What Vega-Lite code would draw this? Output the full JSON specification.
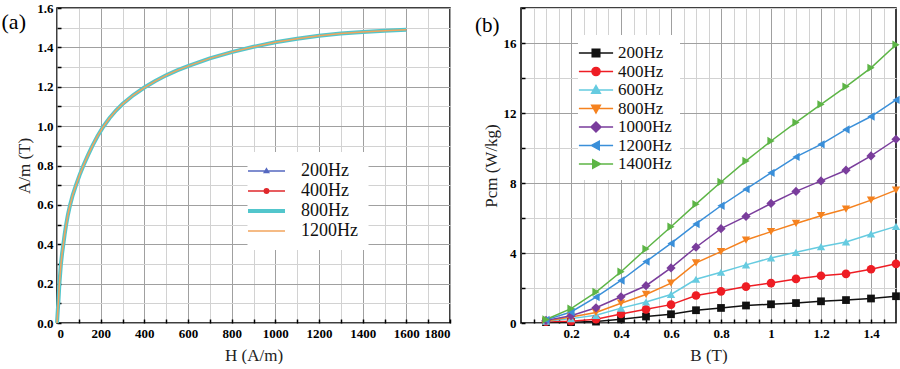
{
  "$schema": "https://vega.github.io/schema/vega-lite/v6.json",
  "padding": {"left": 0, "top": 1, "right": 0, "bottom": 0},
  "background": "#ffffff",
  "config": {
    "font": "Liberation Serif",
    "view": {"stroke": "#000000", "strokeWidth": 1.5},
    "style": {
      "guide-label": {"font": "Liberation Serif"},
      "guide-title": {"font": "Liberation Serif"}
    },
    "axis": {
      "labelFont": "Liberation Serif", "labelFontWeight": "bold", "labelFontSize": 13, "labelColor": "#000000",
      "titleFont": "Liberation Serif", "titleFontWeight": "normal", "titleFontSize": 17, "titleColor": "#222222",
      "domain": false, "ticks": false, "gridColor": "#a0a0a0", "gridWidth": 1, "labelOverlap": false
    }
  },
  "resolve": {"scale": {"color": "independent"}, "legend": {"color": "independent"}},
  "datasets": {
    "bh": [
      {"H": 0, "B": 0}, {"H": 2, "B": 0.035}, {"H": 4, "B": 0.07}, {"H": 6, "B": 0.1}, {"H": 8.5, "B": 0.15},
      {"H": 11, "B": 0.2}, {"H": 14.5, "B": 0.25}, {"H": 18, "B": 0.3}, {"H": 23, "B": 0.35}, {"H": 29, "B": 0.4},
      {"H": 35, "B": 0.45}, {"H": 42, "B": 0.5}, {"H": 50, "B": 0.55}, {"H": 60, "B": 0.6}, {"H": 72, "B": 0.65},
      {"H": 87, "B": 0.7}, {"H": 103, "B": 0.75}, {"H": 121, "B": 0.8}, {"H": 141, "B": 0.85}, {"H": 162, "B": 0.9},
      {"H": 186, "B": 0.95}, {"H": 212, "B": 0.997}, {"H": 240, "B": 1.04}, {"H": 270, "B": 1.079}, {"H": 300, "B": 1.112},
      {"H": 350, "B": 1.158}, {"H": 400, "B": 1.196}, {"H": 450, "B": 1.229}, {"H": 500, "B": 1.258}, {"H": 550, "B": 1.283},
      {"H": 600, "B": 1.305}, {"H": 700, "B": 1.344}, {"H": 800, "B": 1.376}, {"H": 900, "B": 1.403}, {"H": 1000, "B": 1.426},
      {"H": 1100, "B": 1.444}, {"H": 1200, "B": 1.459}, {"H": 1300, "B": 1.47}, {"H": 1400, "B": 1.478}, {"H": 1500, "B": 1.485},
      {"H": 1600, "B": 1.49}
    ],
    "loss": [
      {"B": 0.1, "200Hz": 0.05, "400Hz": 0.08, "600Hz": 0.1, "800Hz": 0.12, "1000Hz": 0.15, "1200Hz": 0.18, "1400Hz": 0.2},
      {"B": 0.2, "200Hz": 0.05, "400Hz": 0.1, "600Hz": 0.25, "800Hz": 0.34, "1000Hz": 0.42, "1200Hz": 0.63, "1400Hz": 0.82},
      {"B": 0.3, "200Hz": 0.08, "400Hz": 0.22, "600Hz": 0.44, "800Hz": 0.6, "1000Hz": 0.87, "1200Hz": 1.48, "1400Hz": 1.77},
      {"B": 0.4, "200Hz": 0.21, "400Hz": 0.52, "600Hz": 0.85, "800Hz": 1.13, "1000Hz": 1.5, "1200Hz": 2.43, "1400Hz": 2.93},
      {"B": 0.5, "200Hz": 0.37, "400Hz": 0.78, "600Hz": 1.2, "800Hz": 1.63, "1000Hz": 2.13, "1200Hz": 3.51, "1400Hz": 4.23},
      {"B": 0.6, "200Hz": 0.5, "400Hz": 1.05, "600Hz": 1.63, "800Hz": 2.28, "1000Hz": 3.15, "1200Hz": 4.55, "1400Hz": 5.5},
      {"B": 0.7, "200Hz": 0.73, "400Hz": 1.57, "600Hz": 2.5, "800Hz": 3.44, "1000Hz": 4.33, "1200Hz": 5.66, "1400Hz": 6.79},
      {"B": 0.8, "200Hz": 0.86, "400Hz": 1.81, "600Hz": 2.9, "800Hz": 4.08, "1000Hz": 5.39, "1200Hz": 6.7, "1400Hz": 8.06},
      {"B": 0.9, "200Hz": 1.0, "400Hz": 2.08, "600Hz": 3.32, "800Hz": 4.74, "1000Hz": 6.09, "1200Hz": 7.65, "1400Hz": 9.26},
      {"B": 1.0, "200Hz": 1.07, "400Hz": 2.28, "600Hz": 3.72, "800Hz": 5.22, "1000Hz": 6.83, "1200Hz": 8.58, "1400Hz": 10.4},
      {"B": 1.1, "200Hz": 1.14, "400Hz": 2.52, "600Hz": 4.04, "800Hz": 5.69, "1000Hz": 7.52, "1200Hz": 9.49, "1400Hz": 11.46},
      {"B": 1.2, "200Hz": 1.24, "400Hz": 2.7, "600Hz": 4.36, "800Hz": 6.13, "1000Hz": 8.12, "1200Hz": 10.21, "1400Hz": 12.49},
      {"B": 1.3, "200Hz": 1.31, "400Hz": 2.81, "600Hz": 4.63, "800Hz": 6.51, "1000Hz": 8.73, "1200Hz": 11.06, "1400Hz": 13.51},
      {"B": 1.4, "200Hz": 1.4, "400Hz": 3.07, "600Hz": 5.09, "800Hz": 7.02, "1000Hz": 9.55, "1200Hz": 11.8, "1400Hz": 14.58},
      {"B": 1.5, "200Hz": 1.53, "400Hz": 3.38, "600Hz": 5.52, "800Hz": 7.59, "1000Hz": 10.5, "1200Hz": 12.75, "1400Hz": 15.9}
    ]
  },
  "hconcat": [
    {
      "width": 393,
      "height": 315,
      "data": {"name": "bh"},
      "layer": [
        {
          "mark": {"type": "line", "opacity": 0},
          "encoding": {
            "x": {"field": "H", "type": "quantitative", "scale": {"domain": [0, 1800], "nice": false},
              "axis": {"orient": "bottom", "values": [0,100,200,300,400,500,600,700,800,900,1000,1100,1200,1300,1400,1500,1600,1700,1800], "grid": true, "gridColor": "#d2d2d2", "labels": false, "ticks": true, "tickSize": -4, "tickWidth": 1.5, "tickColor": "#000000", "title": null}},
            "y": {"field": "B", "type": "quantitative", "scale": {"domain": [0, 1.6], "nice": false},
              "axis": {"orient": "left", "values": [0,0.1,0.2,0.3,0.4,0.5,0.6,0.7,0.8,0.9,1.0,1.1,1.2,1.3,1.4,1.5,1.6], "grid": true, "gridColor": "#d2d2d2", "labels": false, "ticks": true, "tickSize": -4, "tickWidth": 1.5, "tickColor": "#000000", "title": null}}
          }
        },
        {
          "mark": {"type": "line", "strokeWidth": 1.5},
          "encoding": {
            "x": {"field": "H", "type": "quantitative",
              "axis": {"orient": "bottom", "values": [0,200,400,600,800,1000,1200,1400,1600,1800], "format": "d", "grid": true, "title": "H (A/m)", "labelFont": "Liberation Serif", "titleFont": "Liberation Serif", "labelFontWeight": "bold", "labelPadding": 4, "titlePadding": 7}},
            "y": {"field": "B", "type": "quantitative",
              "axis": {"orient": "left", "values": [0,0.2,0.4,0.6,0.8,1.0,1.2,1.4,1.6], "format": ".1f", "grid": true, "title": "A/m (T)", "labelFont": "Liberation Serif", "titleFont": "Liberation Serif", "labelFontWeight": "bold", "labelPadding": 4, "titlePadding": 3}},
            "color": {"datum": "200Hz", "type": "nominal",
              "scale": {"domain": ["200Hz", "400Hz", "800Hz", "1200Hz"], "range": ["#5568c0", "#e0282c", "#52c6cc", "#f2a45c"]},
              "legend": {
                "orient": "none", "legendX": 190.5, "legendY": 144, "title": null, "padding": 10, "fillColor": "#ffffff",
                "symbolSize": 400, "rowPadding": 2, "labelOffset": 25.5,
                "labelFont": "Liberation Serif", "labelFontSize": 18, "labelColor": "#111111",
                "symbolStrokeWidth": {"expr": "datum.value == '800Hz' ? 4 : 1.5"},
                "symbolFillColor": {"expr": "datum.value == '200Hz' ? '#5568c0' : datum.value == '400Hz' ? '#e0282c' : datum.value == '800Hz' ? '#52c6cc' : '#f2a45c'"},
                "symbolType": {"expr": "datum.value == '200Hz' ? 'M-1.85,0H1.85M0,-0.22L0.22,0.16H-0.22Z' : datum.value == '400Hz' ? 'M-1.85,0H1.85M-0.22,0A0.22,0.22,0,1,0,0.22,0A0.22,0.22,0,1,0,-0.22,0Z' : 'M-1.85,0H1.85'"}
              }}
          }
        },
        {
          "mark": {"type": "line", "strokeWidth": 1.5},
          "encoding": {
            "x": {"field": "H", "type": "quantitative", "axis": null},
            "y": {"field": "B", "type": "quantitative", "axis": null},
            "color": {"datum": "400Hz", "type": "nominal"}
          }
        },
        {
          "mark": {"type": "line", "strokeWidth": 4},
          "encoding": {
            "x": {"field": "H", "type": "quantitative", "axis": null},
            "y": {"field": "B", "type": "quantitative", "axis": null},
            "color": {"datum": "800Hz", "type": "nominal"}
          }
        },
        {
          "mark": {"type": "line", "strokeWidth": 1.5},
          "encoding": {
            "x": {"field": "H", "type": "quantitative", "axis": null},
            "y": {"field": "B", "type": "quantitative", "axis": null},
            "color": {"datum": "1200Hz", "type": "nominal"}
          }
        },
        {
          "data": {"values": [{"label": "(a)"}]},
          "mark": {"type": "text", "font": "Liberation Serif", "fontSize": 22, "align": "left", "baseline": "middle", "color": "#000000"},
          "encoding": {
            "x": {"datum": -254, "type": "quantitative", "axis": null},
            "y": {"datum": 1.53, "type": "quantitative", "axis": null},
            "text": {"field": "label", "type": "nominal"}
          }
        }
      ],
      "resolve": {"axis": {"x": "independent", "y": "independent"}}
    },
    {
      "width": 375,
      "height": 315,
      "data": {"name": "loss"},
      "layer": [
        {
          "transform": [{"fold": ["200Hz", "400Hz", "600Hz", "800Hz", "1000Hz", "1200Hz", "1400Hz"], "as": ["f", "P"]}],
          "mark": {"type": "line", "opacity": 0},
          "encoding": {
            "x": {"field": "B", "type": "quantitative", "scale": {"domain": [0, 1.5], "nice": false},
              "axis": {"orient": "bottom", "values": [0.05,0.1,0.15,0.2,0.25,0.3,0.35,0.4,0.45,0.5,0.55,0.6,0.65,0.7,0.75,0.8,0.85,0.9,0.95,1.0,1.05,1.1,1.15,1.2,1.25,1.3,1.35,1.4,1.45], "grid": true, "gridColor": "#d2d2d2", "labels": false, "ticks": true, "tickSize": -4, "tickWidth": 1.5, "tickColor": "#000000", "title": null}},
            "y": {"field": "P", "type": "quantitative", "scale": {"domain": [0, 18], "nice": false},
              "axis": {"orient": "left", "values": [0,2,4,6,8,10,12,14,16,18], "grid": true, "gridColor": "#d2d2d2", "labels": false, "ticks": true, "tickSize": -4, "tickWidth": 1.5, "tickColor": "#000000", "title": null}}
          }
        },
        {
          "transform": [{"fold": ["200Hz", "400Hz", "600Hz", "800Hz", "1000Hz", "1200Hz", "1400Hz"], "as": ["f", "P"]}],
          "mark": {"type": "line", "strokeWidth": 1.5},
          "encoding": {
            "x": {"field": "B", "type": "quantitative",
              "axis": {"orient": "bottom", "values": [0.2,0.4,0.6,0.8,1.0,1.2,1.4], "format": "~g", "grid": true, "title": "B (T)", "labelFont": "Liberation Serif", "titleFont": "Liberation Serif", "labelFontWeight": "bold", "labelPadding": 4, "titlePadding": 7}},
            "y": {"field": "P", "type": "quantitative",
              "axis": {"orient": "left", "values": [0,4,8,12,16], "grid": true, "title": "Pcm (W/kg)", "labelFont": "Liberation Serif", "titleFont": "Liberation Serif", "labelFontWeight": "bold", "labelPadding": 5, "titlePadding": 3}},
            "color": {"field": "f", "type": "nominal",
              "scale": {"domain": ["200Hz", "400Hz", "600Hz", "800Hz", "1000Hz", "1200Hz", "1400Hz"], "range": ["#111111", "#ee1d24", "#66cbe0", "#f5821f", "#7a3d9c", "#3a8fd9", "#5db546"]},
              "legend": {
                "orient": "none", "legendX": 57, "legendY": 27, "title": null, "padding": 8, "fillColor": "#ffffff",
                "symbolSize": 324, "rowPadding": 0.5, "labelOffset": 12, "symbolStrokeWidth": 1.5,
                "labelFont": "Liberation Serif", "labelFontSize": 17, "labelColor": "#111111",
                "symbolFillColor": {"expr": "datum.value == '200Hz' ? '#111111' : datum.value == '400Hz' ? '#ee1d24' : datum.value == '600Hz' ? '#66cbe0' : datum.value == '800Hz' ? '#f5821f' : datum.value == '1000Hz' ? '#7a3d9c' : datum.value == '1200Hz' ? '#3a8fd9' : '#5db546'"},
                "symbolType": {"expr": "datum.value == '200Hz' ? 'M-1.9,0H1.9M-0.42,-0.42H0.42V0.42H-0.42Z' : datum.value == '400Hz' ? 'M-1.9,0H1.9M-0.45,0A0.45,0.45,0,1,0,0.45,0A0.45,0.45,0,1,0,-0.45,0Z' : datum.value == '600Hz' ? 'M-1.9,0H1.9M0,-0.5L0.48,0.36H-0.48Z' : datum.value == '800Hz' ? 'M-1.9,0H1.9M0,0.5L0.48,-0.36H-0.48Z' : datum.value == '1000Hz' ? 'M-1.9,0H1.9M0,-0.55L0.55,0L0,0.55L-0.55,0Z' : datum.value == '1200Hz' ? 'M-1.9,0H1.9M-0.5,0L0.36,-0.48V0.48Z' : 'M-1.9,0H1.9M0.5,0L-0.36,-0.48V0.48Z'"}
              }}
          }
        },
        {
          "transform": [{"fold": ["200Hz"], "as": ["f", "P"]}],
          "mark": {"type": "point", "filled": true, "size": 60, "opacity": 1, "shape": "square"},
          "encoding": {
            "x": {"field": "B", "type": "quantitative", "axis": null},
            "y": {"field": "P", "type": "quantitative", "axis": null},
            "color": {"field": "f", "type": "nominal", "legend": null}
          }
        },
        {
          "transform": [{"fold": ["400Hz"], "as": ["f", "P"]}],
          "mark": {"type": "point", "filled": true, "size": 75, "opacity": 1, "shape": "circle"},
          "encoding": {
            "x": {"field": "B", "type": "quantitative", "axis": null},
            "y": {"field": "P", "type": "quantitative", "axis": null},
            "color": {"field": "f", "type": "nominal", "legend": null}
          }
        },
        {
          "transform": [{"fold": ["600Hz"], "as": ["f", "P"]}],
          "mark": {"type": "point", "filled": true, "size": 70, "opacity": 1, "shape": "triangle-up"},
          "encoding": {
            "x": {"field": "B", "type": "quantitative", "axis": null},
            "y": {"field": "P", "type": "quantitative", "axis": null},
            "color": {"field": "f", "type": "nominal", "legend": null}
          }
        },
        {
          "transform": [{"fold": ["800Hz"], "as": ["f", "P"]}],
          "mark": {"type": "point", "filled": true, "size": 70, "opacity": 1, "shape": "triangle-down"},
          "encoding": {
            "x": {"field": "B", "type": "quantitative", "axis": null},
            "y": {"field": "P", "type": "quantitative", "axis": null},
            "color": {"field": "f", "type": "nominal", "legend": null}
          }
        },
        {
          "transform": [{"fold": ["1000Hz"], "as": ["f", "P"]}],
          "mark": {"type": "point", "filled": true, "size": 85, "opacity": 1, "shape": "diamond"},
          "encoding": {
            "x": {"field": "B", "type": "quantitative", "axis": null},
            "y": {"field": "P", "type": "quantitative", "axis": null},
            "color": {"field": "f", "type": "nominal", "legend": null}
          }
        },
        {
          "transform": [{"fold": ["1200Hz"], "as": ["f", "P"]}],
          "mark": {"type": "point", "filled": true, "size": 70, "opacity": 1, "shape": "triangle-left"},
          "encoding": {
            "x": {"field": "B", "type": "quantitative", "axis": null},
            "y": {"field": "P", "type": "quantitative", "axis": null},
            "color": {"field": "f", "type": "nominal", "legend": null}
          }
        },
        {
          "transform": [{"fold": ["1400Hz"], "as": ["f", "P"]}],
          "mark": {"type": "point", "filled": true, "size": 70, "opacity": 1, "shape": "triangle-right"},
          "encoding": {
            "x": {"field": "B", "type": "quantitative", "axis": null},
            "y": {"field": "P", "type": "quantitative", "axis": null},
            "color": {"field": "f", "type": "nominal", "legend": null}
          }
        },
        {
          "data": {"values": [{"label": "(b)"}]},
          "mark": {"type": "text", "font": "Liberation Serif", "fontSize": 21, "align": "left", "baseline": "middle", "color": "#000000"},
          "encoding": {
            "x": {"datum": -0.184, "type": "quantitative", "axis": null},
            "y": {"datum": 17, "type": "quantitative", "axis": null},
            "text": {"field": "label", "type": "nominal"}
          }
        }
      ],
      "resolve": {"axis": {"x": "independent", "y": "independent"}}
    }
  ],
  "spacing": 71,
  "bounds": "flush"
}
